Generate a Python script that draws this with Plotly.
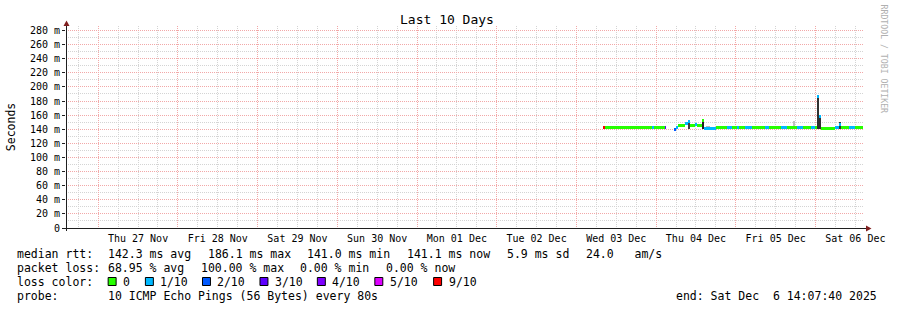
import plotly.graph_objects as go
import pandas as pd

# ---------------- data ----------------
title_text = "Last 10 Days"
x_start = "2025-11-26 14:18"
x_end = "2025-12-06 14:18"

loss_labels = ["0", "1/10", "2/10", "3/10", "4/10", "5/10", "9/10"]
loss_colors = ["#26ff00", "#00b8ff", "#0059ff", "#5e00ff", "#7e00ff", "#dd00ff", "#ff0000"]

# median rtt samples (runs), value in ms, loss as index into loss_labels
med_start = ["2025-12-03 08:00", "2025-12-03 08:36", "2025-12-03 22:42", "2025-12-03 23:18", "2025-12-04 02:36",
             "2025-12-04 05:18", "2025-12-04 05:54", "2025-12-04 06:30", "2025-12-04 08:36", "2025-12-04 09:30",
             "2025-12-04 10:06", "2025-12-04 11:36", "2025-12-04 12:12", "2025-12-04 13:42", "2025-12-04 14:18",
             "2025-12-04 17:54", "2025-12-04 21:12", "2025-12-04 23:00", "2025-12-05 00:30", "2025-12-05 01:06",
             "2025-12-05 02:54", "2025-12-05 05:00", "2025-12-05 08:54", "2025-12-05 10:06", "2025-12-05 13:42",
             "2025-12-05 15:30", "2025-12-05 18:30", "2025-12-05 20:18", "2025-12-05 22:42", "2025-12-05 23:54",
             "2025-12-06 00:30", "2025-12-06 01:06", "2025-12-06 01:42", "2025-12-06 05:54", "2025-12-06 07:06",
             "2025-12-06 07:42", "2025-12-06 10:06", "2025-12-06 11:54"]
med_end = ["2025-12-03 08:36", "2025-12-03 22:42", "2025-12-03 23:18", "2025-12-04 02:36", "2025-12-04 02:54",
           "2025-12-04 05:54", "2025-12-04 06:30", "2025-12-04 08:36", "2025-12-04 09:30", "2025-12-04 10:06",
           "2025-12-04 11:36", "2025-12-04 12:12", "2025-12-04 13:42", "2025-12-04 14:18", "2025-12-04 17:54",
           "2025-12-04 21:12", "2025-12-04 23:00", "2025-12-05 00:30", "2025-12-05 01:06", "2025-12-05 02:54",
           "2025-12-05 05:00", "2025-12-05 08:54", "2025-12-05 10:06", "2025-12-05 13:42", "2025-12-05 15:30",
           "2025-12-05 18:30", "2025-12-05 20:18", "2025-12-05 22:42", "2025-12-05 23:54", "2025-12-06 00:30",
           "2025-12-06 01:06", "2025-12-06 01:42", "2025-12-06 05:54", "2025-12-06 07:06", "2025-12-06 07:42",
           "2025-12-06 10:06", "2025-12-06 11:54", "2025-12-06 14:18"]
med_ms = [142.5, 142.0, 142.5, 142.0, 142.0,
          140.0, 143.0, 145.0, 148.0, 151.0,
          146.0, 147.0, 145.0, 153.0, 141.5,
          142.0, 142.0, 142.0, 142.0, 142.0,
          142.0, 142.0, 142.0, 142.0, 142.0,
          142.0, 142.0, 142.0, 142.0, 142.0,
          186.1, 158.0, 141.5, 142.0, 147.0,
          142.0, 142.0, 142.0]
med_loss = [6, 0, 1, 0, 3,
            2, 1, 0, 1, 1,
            0, 1, 0, 0, 1,
            0, 1, 0, 1, 0,
            1, 0, 1, 0, 1,
            0, 1, 0, 1, 0,
            1, 1, 0, 1, 1,
            0, 1, 0]

# smoke (spread of the individual pings), ms
smoke_start = ["2025-12-04 09:30", "2025-12-04 13:42", "2025-12-04 15:00", "2025-12-05 17:18",
               "2025-12-06 00:30", "2025-12-06 01:06", "2025-12-06 07:06"]
smoke_end = ["2025-12-04 10:06", "2025-12-04 14:18", "2025-12-04 16:12", "2025-12-05 17:54",
             "2025-12-06 01:06", "2025-12-06 01:42", "2025-12-06 07:42"]
smoke_low = [141.0, 141.0, 141.0, 141.0, 141.0, 141.0, 141.0]
smoke_high = [152.0, 154.0, 145.0, 152.0, 188.0, 160.0, 151.0]
smoke_shade = ["#404040", "#202020", "#b8b8b8", "#c0c0c0", "#303030", "#303030", "#303030"]

y_ticks = list(range(0, 281, 20))
y_max = 286.4

legend_rows = [
    [("median rtt:", 16), ("142.3 ms avg", 107.3), ("186.1 ms max", 207.3), ("141.0 ms min", 307.3),
     ("141.1 ms now", 407.3), ("5.9 ms sd", 507.3), ("24.0   am/s", 586.7)],
    [("packet loss:", 16), ("68.95 % avg", 107.3), ("100.00 % max", 200.0), ("0.00 % min", 300.0),
     ("0.00 % now", 385.7)],
    [("loss color:", 16)],
    [("probe:", 16), ("10 ICMP Echo Pings (56 Bytes) every 80s", 107.3),
     ("end: Sat Dec  6 14:07:40 2025", 677.7)],
]
legend_row_y = [254.0, 268.3, 282.3, 296.3]
swatch_x = [108.3, 145.7, 203.0, 260.7, 318.3, 376.0, 435.0]

# ---------------- geometry ----------------
W, H = 897, 310
L, R, T, B = 66, 31, 26, 82
PW, PH = W - L - R, H - T - B
MONO = "DejaVu Sans Mono"
band_ms = 3.0 * y_max / PH  # median drawn as a ~3px band


def px(xp):
    return (xp - L) / PW


def py(yp):
    return (T + PH - yp) / PH


# ---------------- traces ----------------
ss = pd.to_datetime(pd.Series(smoke_start))
se = pd.to_datetime(pd.Series(smoke_end))
smoke = go.Bar(
    x=ss + (se - ss) / 2,
    y=[h - l for h, l in zip(smoke_high, smoke_low)],
    base=smoke_low,
    width=(se - ss).dt.total_seconds() * 1000,
    marker=dict(color=smoke_shade, line=dict(width=0)),
    hoverinfo="skip", showlegend=False,
)

ms_ = pd.to_datetime(pd.Series(med_start))
me_ = pd.to_datetime(pd.Series(med_end))
median = go.Bar(
    x=ms_ + (me_ - ms_) / 2,
    y=[band_ms] * len(med_ms),
    base=[v - band_ms / 2 for v in med_ms],
    width=(me_ - ms_).dt.total_seconds() * 1000,
    marker=dict(color=[loss_colors[i] for i in med_loss], line=dict(width=0)),
    customdata=med_ms,
    hovertemplate="%{customdata} ms<extra></extra>",
    showlegend=False,
)

fig = go.Figure([smoke, median])

grid_minor = "#d4d4d4"
grid_major = "#f2a8a8"

fig.update_layout(
    width=W, height=H, autosize=False,
    margin=dict(l=L, r=R, t=T, b=B, pad=0),
    paper_bgcolor="white", plot_bgcolor="white",
    barmode="overlay", bargap=0,
    font=dict(family=MONO, size=10, color="black"),
    xaxis=dict(
        type="date", range=[x_start, x_end],
        tick0="2025-11-27 00:00", dtick=86400000,
        ticklabelmode="period", tickformat="%a %d %b",
        showgrid=True, gridcolor=grid_major, griddash="1px,1px", gridwidth=1,
        ticks="outside", ticklen=1, tickcolor="rgba(0,0,0,0)",
        showline=False, zeroline=False,
        tickfont=dict(family=MONO, size=10, color="black"),
        minor=dict(tick0="2025-11-27 00:00", dtick=21600000, showgrid=True,
                   gridcolor=grid_minor, griddash="1px,1px", gridwidth=1),
        fixedrange=True,
    ),
    yaxis=dict(
        range=[0, y_max],
        tickmode="array", tickvals=y_ticks,
        ticktext=[f"{v} m" if v else "0" for v in y_ticks],
        showgrid=True, gridcolor=grid_major, griddash="1px,1px", gridwidth=1,
        ticks="outside", ticklen=3, tickcolor="#1f1f1f",
        showline=False, zeroline=False,
        tickfont=dict(family=MONO, size=10, color="black"),
        minor=dict(dtick=10, tick0=0, showgrid=True,
                   gridcolor=grid_minor, griddash="1px,1px", gridwidth=1),
        fixedrange=True,
    ),
)

shapes = []
# axes with arrows
shapes.append(dict(type="line", xref="paper", yref="paper", xsizemode="pixel", ysizemode="pixel",
                   xanchor=0, yanchor=0, x0=-4, x1=803, y0=-0.5, y1=-0.5,
                   line=dict(color="#1f1f1f", width=1)))
shapes.append(dict(type="line", xref="paper", yref="paper", xsizemode="pixel", ysizemode="pixel",
                   xanchor=0, yanchor=0, x0=0.5, x1=0.5, y0=-3, y1=PH,
                   line=dict(color="#1f1f1f", width=1)))
shapes.append(dict(type="path", xref="paper", yref="paper", xsizemode="pixel", ysizemode="pixel",
                   xanchor=1, yanchor=0, path="M 3 2.5 L 8.5 -0.5 L 3 -3.5 Z",
                   fillcolor="#801f1f", line=dict(width=0)))
shapes.append(dict(type="path", xref="paper", yref="paper", xsizemode="pixel", ysizemode="pixel",
                   xanchor=0, yanchor=1, path="M -2.5 0 L 3.5 0 L 0.5 5.5 Z",
                   fillcolor="#801f1f", line=dict(width=0)))
# loss colour swatches
for xs, col in zip(swatch_x, loss_colors):
    shapes.append(dict(type="rect", xref="paper", yref="paper",
                       x0=px(xs), x1=px(xs + 8), y0=py(277.5), y1=py(285.5),
                       fillcolor=col, line=dict(color="black", width=1)))
fig.update_layout(shapes=shapes)

ann = []
LEG = dict(family=MONO, size=11.5, color="black")
for row, yv in zip(legend_rows, legend_row_y):
    for txt, xv in row:
        ann.append(dict(text=txt, x=px(xv - 1), y=py(yv), xref="paper", yref="paper",
                        xanchor="left", yanchor="middle", showarrow=False, font=LEG))
for xs, lab in zip(swatch_x, loss_labels):
    ann.append(dict(text=lab, x=px(xs + 13), y=py(legend_row_y[2]), xref="paper", yref="paper",
                    xanchor="left", yanchor="middle", showarrow=False, font=LEG))
ann.append(dict(text=title_text, x=px(448), y=py(20), xref="paper", yref="paper",
                xanchor="center", yanchor="middle", showarrow=False,
                font=dict(family=MONO, size=13, color="black")))
ann.append(dict(text="Seconds", x=px(11), y=py(127), xref="paper", yref="paper",
                xanchor="center", yanchor="middle", showarrow=False, textangle=-90,
                font=dict(family=MONO, size=11.5, color="black")))
ann.append(dict(text="RRDTOOL / TOBI OETIKER", x=px(887.5), y=py(59), xref="paper", yref="paper",
                xanchor="center", yanchor="middle", showarrow=False, textangle=90,
                font=dict(family=MONO, size=8.2, color="#b0b0b0")))
fig.update_layout(annotations=ann)

fig.write_html("out.html", config={"displayModeBar": False, "staticPlot": True})
